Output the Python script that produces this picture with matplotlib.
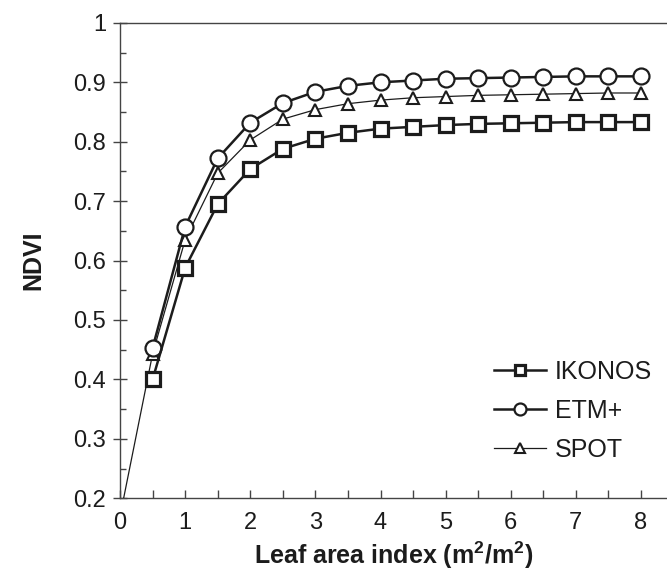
import numpy as np
import matplotlib
matplotlib.use("Agg")
import matplotlib.pyplot as plt
from matplotlib.ticker import MultipleLocator

plt.rcParams["font.family"] = ["Liberation Sans", "DejaVu Sans"]
plt.rcParams["mathtext.fontset"] = "custom"
plt.rcParams["mathtext.rm"] = "Liberation Sans:bold"
plt.rcParams["mathtext.it"] = "Liberation Sans:bold"
plt.rcParams["mathtext.bf"] = "Liberation Sans:bold"

# Leaf area index values
lai = [0.5, 1, 1.5, 2, 2.5, 3, 3.5, 4, 4.5, 5, 5.5, 6, 6.5, 7, 7.5, 8]

ikonos = [0.400, 0.588, 0.695, 0.754, 0.788, 0.805, 0.815, 0.822, 0.825, 0.828,
          0.830, 0.831, 0.832, 0.833, 0.833, 0.833]
etm = [0.453, 0.657, 0.772, 0.832, 0.865, 0.884, 0.894, 0.900, 0.903, 0.906,
       0.907, 0.908, 0.909, 0.910, 0.910, 0.910]
spot = [0.443, 0.635, 0.747, 0.803, 0.838, 0.854, 0.864, 0.870, 0.874, 0.876,
        0.878, 0.879, 0.880, 0.881, 0.882, 0.882]
# bare soil value at LAI = 0 (line only, no marker)
spot_lai0 = 0.17

ink = "#1c1c1c"

fig = plt.figure(figsize=(6.67, 5.72), dpi=100)
ax = fig.add_axes([0.18, 0.129, 0.82, 0.831])

ax.plot([0] + lai, [spot_lai0] + spot, color=ink, linewidth=0.9, marker="^",
        markersize=9, markerfacecolor="white", markeredgecolor=ink,
        markeredgewidth=1.5, markevery=list(range(1, len(lai) + 1)), label="SPOT",
        zorder=3)
ax.plot(lai, etm, color=ink, linewidth=1.8, marker="o", markersize=11.5,
        markerfacecolor="white", markeredgecolor=ink, markeredgewidth=1.6,
        label="ETM+", zorder=4)
ax.plot(lai, ikonos, color=ink, linewidth=1.8, marker="s", markersize=10.5,
        markerfacecolor="white", markeredgecolor=ink, markeredgewidth=2.3,
        label="IKONOS", zorder=5)

ax.set_xlim(0, 8.4)
ax.set_ylim(0.2, 1.0)
ax.xaxis.set_major_locator(MultipleLocator(1))
ax.xaxis.set_minor_locator(MultipleLocator(0.5))
ax.yaxis.set_major_locator(MultipleLocator(0.1))
ax.yaxis.set_minor_locator(MultipleLocator(0.05))
ax.yaxis.set_major_formatter(plt.FuncFormatter(lambda v, p: f"{v:g}"))

ax.spines["right"].set_visible(False)
for s in ["left", "bottom", "top"]:
    ax.spines[s].set_color("#444444")
    ax.spines[s].set_linewidth(1.0)

ax.tick_params(axis="y", which="major", direction="inout", length=10, width=1,
               color="#444444", labelsize=17, labelcolor=ink, pad=5)
ax.tick_params(axis="y", which="minor", direction="in", length=4, width=1,
               color="#444444")
ax.tick_params(axis="x", which="both", direction="in", length=6, width=1,
               color="#444444", labelsize=17, labelcolor=ink, pad=10)

ax.set_xlabel("Leaf area index (m$^2$/m$^2$)", fontsize=18, fontweight="bold",
              color=ink, labelpad=4)
ax.set_ylabel("NDVI", fontsize=18, fontweight="bold", color=ink, labelpad=20)

handles, labels = ax.get_legend_handles_labels()
order = [2, 1, 0]
leg = ax.legend([handles[i] for i in order], [labels[i] for i in order],
                loc="lower left", bbox_to_anchor=(0.665, 0.055), frameon=False,
                fontsize=18, handlelength=2.1, handletextpad=0.35,
                labelspacing=0.6, markerscale=0.75, borderaxespad=0)
for t in leg.get_texts():
    t.set_color(ink)

fig.savefig("out.png", dpi=100)
